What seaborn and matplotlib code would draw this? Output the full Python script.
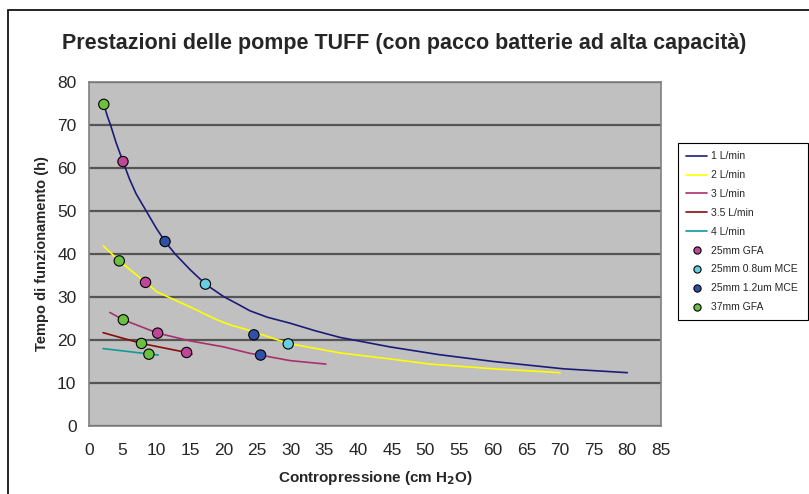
import pandas as pd
import matplotlib
matplotlib.use("Agg")
import matplotlib.pyplot as plt
import seaborn as sns
from matplotlib.patches import Rectangle

# Curve data
x_1 = [2.2, 2.7, 3.2, 4.0, 5.05, 6.0, 7.0, 8.5, 10.0, 11.3, 12.8, 15.0, 17.3, 20.0, 22.4,
       23.9, 26.5, 29.9, 33.5, 37.3, 44.7, 52.0, 60.1, 70.5, 80.0]
y_1 = [74.8, 72.2, 70.0, 66.0, 61.5, 57.5, 54.0, 50.0, 46.0, 42.9, 40.0, 36.4, 33.0, 30.1, 28.1,
       26.8, 25.3, 23.9, 22.2, 20.6, 18.4, 16.6, 15.0, 13.3, 12.4]
x_2 = [2.1, 4.5, 8.4, 10.1, 15.0, 19.0, 21.0, 23.9, 29.6, 37.3, 44.7, 50.7, 60.1, 70.0]
y_2 = [41.9, 38.4, 33.4, 31.2, 27.7, 24.7, 23.5, 22.2, 19.2, 17.0, 15.6, 14.4, 13.3, 12.4]
x_3 = [3.1, 5.1, 10.2, 15.0, 20.0, 23.9, 25.4, 29.9, 35.2]
y_3 = [26.4, 24.7, 21.6, 19.8, 18.4, 16.9, 16.5, 15.2, 14.4]
x_35 = [2.1, 7.8, 14.5, 15.3]
y_35 = [21.7, 19.2, 17.1, 16.7]
x_4 = [2.1, 10.3]
y_4 = [18.0, 16.5]

# Measured points
gfa25_x = [5.05, 8.4, 10.2, 14.5]
gfa25_y = [61.5, 33.4, 21.6, 17.1]
mce08_x = [17.3, 29.6]
mce08_y = [33.0, 19.1]
mce12_x = [11.3, 24.5, 25.5]
mce12_y = [42.9, 21.2, 16.5]
gfa37_x = [2.2, 4.5, 5.1, 7.8, 8.9]
gfa37_y = [74.8, 38.4, 24.7, 19.2, 16.7]

line_names = ["1 L/min", "2 L/min", "3 L/min", "3.5 L/min", "4 L/min"]
line_colors = ["#1c1c78", "#ffff00", "#a8306e", "#8b0c0c", "#0f9a9a"]
point_names = ["25mm GFA", "25mm 0.8um MCE", "25mm 1.2um MCE", "37mm GFA"]
point_colors = ["#c0469a", "#66d0e0", "#3050a8", "#6cc040"]

lines = pd.concat([
    pd.DataFrame({"x": xs, "y": ys, "serie": n})
    for xs, ys, n in zip([x_1, x_2, x_3, x_35, x_4], [y_1, y_2, y_3, y_35, y_4], line_names)
])
points = pd.concat([
    pd.DataFrame({"x": xs, "y": ys, "serie": n})
    for xs, ys, n in zip([gfa25_x, mce08_x, mce12_x, gfa37_x],
                         [gfa25_y, mce08_y, mce12_y, gfa37_y], point_names)
])

sns.set_style("white")
plt.rcParams["font.family"] = ["Liberation Sans", "DejaVu Sans"]
plt.rcParams["mathtext.default"] = "bf"

fig = plt.figure(figsize=(8.09, 4.94), dpi=100)
ax = fig.add_axes([89 / 809, 1 - 426 / 494, (661 - 89) / 809, (426 - 82) / 494])
ax.set_facecolor("#c0c0c0")

sns.lineplot(data=lines, x="x", y="y", hue="serie", palette=dict(zip(line_names, line_colors)),
             hue_order=line_names, sort=False, estimator=None, linewidth=1.2, ax=ax)
sns.scatterplot(data=points, x="x", y="y", hue="serie", palette=dict(zip(point_names, point_colors)),
                hue_order=point_names, s=55, edgecolor="black", linewidth=0.8, zorder=5, ax=ax)

ax.set_xlim(0, 85)
ax.set_ylim(0, 80)
ax.set_xticks(range(0, 86, 5))
ax.set_yticks(range(0, 81, 10))
ax.yaxis.grid(True, color="#555555", linewidth=1.6)
ax.set_axisbelow(True)
for s in ax.spines.values():
    s.set_color("#808080")
    s.set_linewidth(1.2)
ax.tick_params(axis="both", direction="out", length=5, width=1, color="#444444",
               labelsize=12.5, pad=4)
ax.tick_params(axis="x", pad=7)

ax.set_xlabel("Contropressione (cm H$_2$O)", fontsize=11, fontweight="bold", labelpad=8)
ax.set_ylabel("Tempo di funzionamento (h)", fontsize=10.5, fontweight="bold", labelpad=6)
fig.text(404 / 809, 1 - 44 / 494, "Prestazioni delle pompe TUFF (con pacco batterie ad alta capacità)",
         ha="center", va="center", fontsize=15.5, fontweight="bold")

handles, labels = ax.get_legend_handles_labels()
leg = ax.legend(handles, labels, loc="upper left",
                bbox_to_anchor=(678 / 809, 1 - 313 / 494, 130 / 809, 170 / 494),
                bbox_transform=fig.transFigure, mode="expand", fontsize=7.5, frameon=True,
                fancybox=False, edgecolor="black", framealpha=1, handlelength=2.0,
                handletextpad=0.4, labelspacing=0.85, borderpad=0.8, markerscale=0.7,
                borderaxespad=0)
leg.get_frame().set_linewidth(0.8)

fig.add_artist(Rectangle((8 / 809, -0.1), 1.2, 1 - 10 / 494 + 0.1, transform=fig.transFigure,
                         fill=False, edgecolor="black", linewidth=1.2))

fig.savefig("out.png", dpi=100)
